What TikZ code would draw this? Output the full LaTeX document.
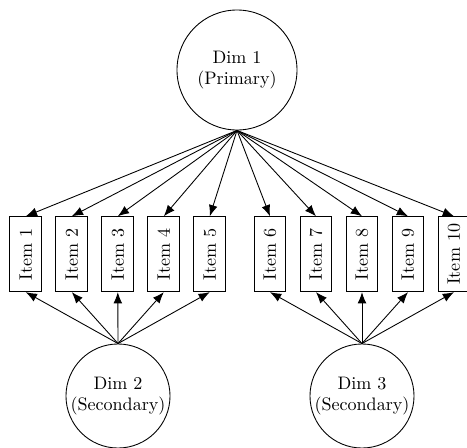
\documentclass[tikz,border=0pt]{standalone}
\usetikzlibrary{arrows.meta}
\begin{document}
\begin{tikzpicture}[x=0.57pt,y=-0.57pt,
  latent/.style={circle,draw,line width=0.5pt,inner sep=0pt,align=center,font=\fontsize{10.3}{12}\selectfont},
  itembox/.style={rectangle,draw,line width=0.5pt,minimum width=18.1pt,minimum height=42.75pt,inner sep=0pt,font=\fontsize{10.3}{12}\selectfont},
  loading/.style={line width=0.5pt,-{Latex[length=6.4pt,width=5pt]}}]
\useasboundingbox (0,0) rectangle (467,448);
% latent dimensions
\node[latent,minimum size=68.4pt] (d1) at (237,70) {Dim 1\\(Primary)};
\node[latent,minimum size=59.3pt] (d2) at (118,396) {Dim 2\\(Secondary)};
\node[latent,minimum size=59.3pt] (d3) at (362,396) {Dim 3\\(Secondary)};
% observed items
\foreach \i/\x in {1/25.8,2/71.8,3/117.8,4/163.8,5/209.8,6/270,7/316,8/362,9/408,10/454}{
  \node[itembox] (it\i) at (\x,254.2) {\rotatebox{90}{Item \i}};
}
% loadings
\foreach \i in {1,...,10}{\draw[loading] (d1.south) -- (it\i.north);}
\foreach \i in {1,...,5}{\draw[loading] (d2.north) -- (it\i.south);}
\foreach \i in {6,...,10}{\draw[loading] (d3.north) -- (it\i.south);}
\end{tikzpicture}
\end{document}
